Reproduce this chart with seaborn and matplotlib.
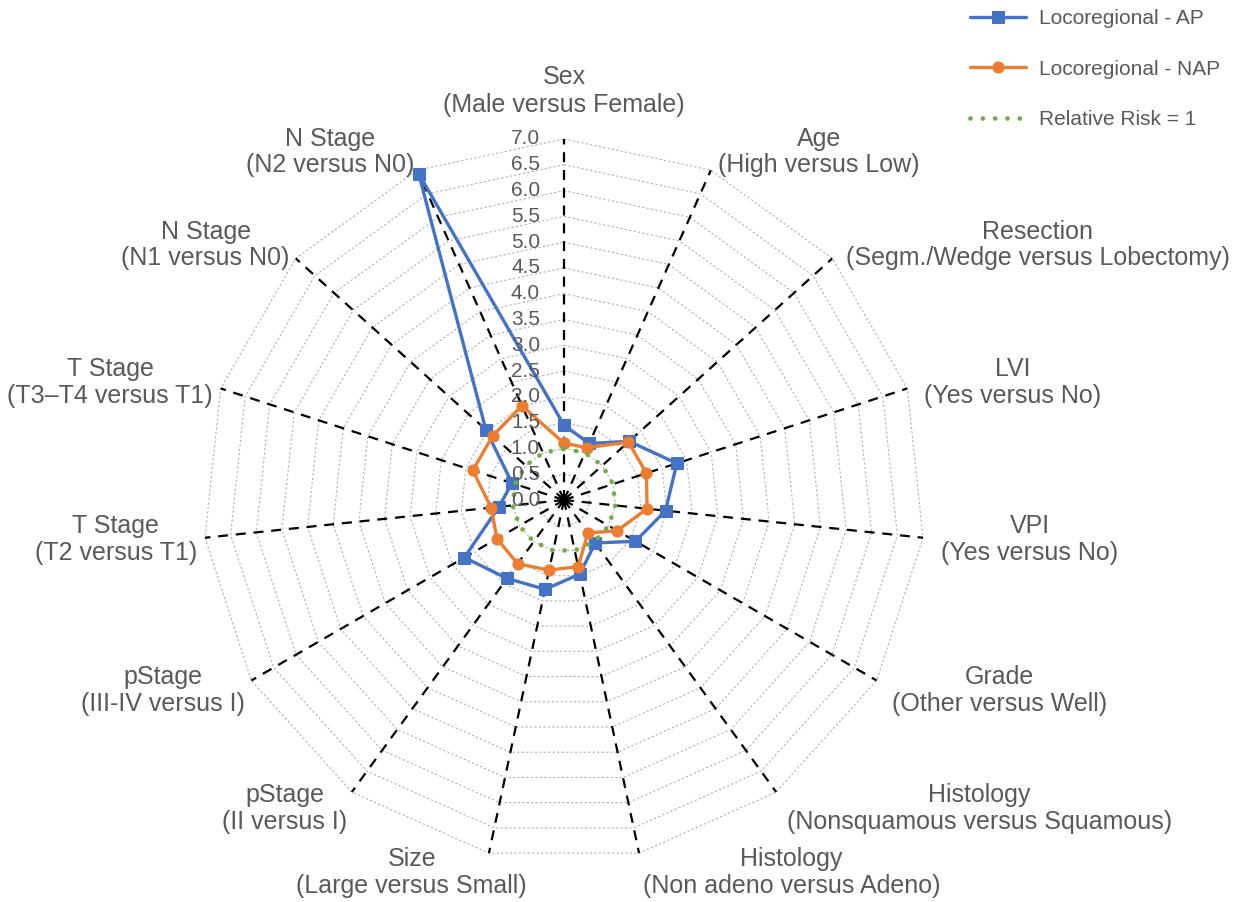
import numpy as np
import pandas as pd
import matplotlib
matplotlib.use("Agg")
import matplotlib.pyplot as plt
import seaborn as sns

categories = [
    "Sex\n(Male versus Female)",
    "Age\n(High versus Low)",
    "Resection\n(Segm./Wedge versus Lobectomy)",
    "LVI\n(Yes versus No)",
    "VPI\n(Yes versus No)",
    "Grade\n(Other versus Well)",
    "Histology\n(Nonsquamous versus Squamous)",
    "Histology\n(Non adeno versus Adeno)",
    "Size\n(Large versus Small)",
    "pStage\n(II versus I)",
    "pStage\n(III-IV versus I)",
    "T Stage\n(T2 versus T1)",
    "T Stage\n(T3\u2013T4 versus T1)",
    "N Stage\n(N1 versus N0)",
    "N Stage\n(N2 versus N0)",
]
ap_values = [1.45, 1.20, 1.70, 2.30, 1.98, 1.60, 1.03, 1.47, 1.77, 1.88, 2.23, 1.27, 1.06, 2.04, 6.93]
nap_values = [1.10, 1.11, 1.68, 1.68, 1.62, 1.19, 0.79, 1.32, 1.39, 1.53, 1.50, 1.42, 1.86, 1.86, 2.00]
rr_values = [1.0] * 15
radial_ticks = [0.0, 0.5, 1.0, 1.5, 2.0, 2.5, 3.0, 3.5, 4.0, 4.5, 5.0, 5.5, 6.0, 6.5, 7.0]
series_names = ["Locoregional - AP", "Locoregional - NAP", "Relative Risk = 1"]

sns.set_style("white")
plt.rcParams["font.family"] = ["Liberation Sans", "DejaVu Sans"]

TXT = "#595959"
BLUE = "#4472C4"
ORANGE = "#ED7D31"
GREEN = "#70AD47"

n = len(categories)
angles = np.linspace(0, 2 * np.pi, n, endpoint=False)
ang_closed = np.append(angles, angles[0] + 2 * np.pi)

fig = plt.figure(figsize=(12.39, 9.02), dpi=100)
cx, cy, R = 564 / 1239, 1 - 500 / 902, 361
ax = fig.add_axes([cx - R / 1239, cy - R / 902, 2 * R / 1239, 2 * R / 902], projection="polar")
ax.set_theta_zero_location("N")
ax.set_theta_direction(-1)
ax.set_ylim(0, 7)
ax.set_xticks([])
ax.set_yticks([])
ax.grid(False)
ax.spines["polar"].set_visible(False)
ax.patch.set_alpha(0)

# polygon gridlines
for v in radial_ticks[1:]:
    ax.plot(ang_closed, [v] * (n + 1), color="#B0B0B0", lw=0.8,
            linestyle=(0, (2, 2)), zorder=1, clip_on=False)
# spokes
for a in angles:
    ax.plot([a, a], [0, radial_ticks[-1]], color="black", lw=1.6,
            linestyle=(0, (4.5, 3.5)), zorder=2, clip_on=False)

def closed(vals):
    return list(vals) + [vals[0]]

df = pd.DataFrame({
    "theta": np.concatenate([ang_closed] * 3),
    "value": closed(ap_values) + closed(nap_values) + closed(rr_values),
    "series": np.repeat(series_names, n + 1),
})

sns.lineplot(data=df[df.series == series_names[0]], x="theta", y="value", ax=ax,
             sort=False, estimator=None, color=BLUE, lw=2.4, marker="s", markersize=8,
             markeredgecolor=BLUE, label=series_names[0], zorder=4, clip_on=False)
sns.lineplot(data=df[df.series == series_names[1]], x="theta", y="value", ax=ax,
             sort=False, estimator=None, color=ORANGE, lw=2.4, marker="o", markersize=8,
             markeredgecolor=ORANGE, label=series_names[1], zorder=5, clip_on=False)
sns.lineplot(data=df[df.series == series_names[2]], x="theta", y="value", ax=ax,
             sort=False, estimator=None, color=GREEN, lw=3.4,
             linestyle=(0, (0.01, 2.6)),
             label=series_names[2], zorder=6, clip_on=False)
for ln in ax.get_lines()[-3:]:
    ln.set_dash_capstyle("round")
ax.set_xlabel("")
ax.set_ylabel("")
ax.legend_.remove()

# radial tick labels
for v in radial_ticks:
    ax.annotate(f"{v:.1f}", xy=(0, v), xytext=(-24, 0), textcoords="offset pixels",
                ha="right", va="center", fontsize=15, color=TXT, zorder=7)

# category labels
for a, lab in zip(angles, categories):
    s, c = np.sin(a), np.cos(a)
    if abs(s) < 1e-6 and c > 0:
        ax.annotate(lab, xy=(a, radial_ticks[-1]), xytext=(0, 22), textcoords="offset pixels",
                    ha="center", va="bottom", fontsize=18, color=TXT, multialignment="center")
        continue
    dy = 20 * c
    if s > 0:
        ha, dx = "left", 18 * s
    elif s > -0.25:
        ha, dx = "right", 38
    else:
        ha, dx = "right", 8 * s
    ax.annotate(lab, xy=(a, radial_ticks[-1]), xytext=(dx, dy), textcoords="offset pixels",
                ha=ha, va="center", fontsize=18, color=TXT,
                multialignment="center", linespacing=1.15)

handles, labels = ax.get_legend_handles_labels()
leg = fig.legend(handles[-3:], labels[-3:], loc="upper left",
                 bbox_to_anchor=(970 / 1239, 1 - 9 / 902), frameon=False,
                 fontsize=15, handlelength=2.7, handletextpad=0.6, labelspacing=1.52,
                 borderpad=0, borderaxespad=0)
for t in leg.get_texts():
    t.set_color(TXT)

fig.savefig("out.png", dpi=100, facecolor="white")
